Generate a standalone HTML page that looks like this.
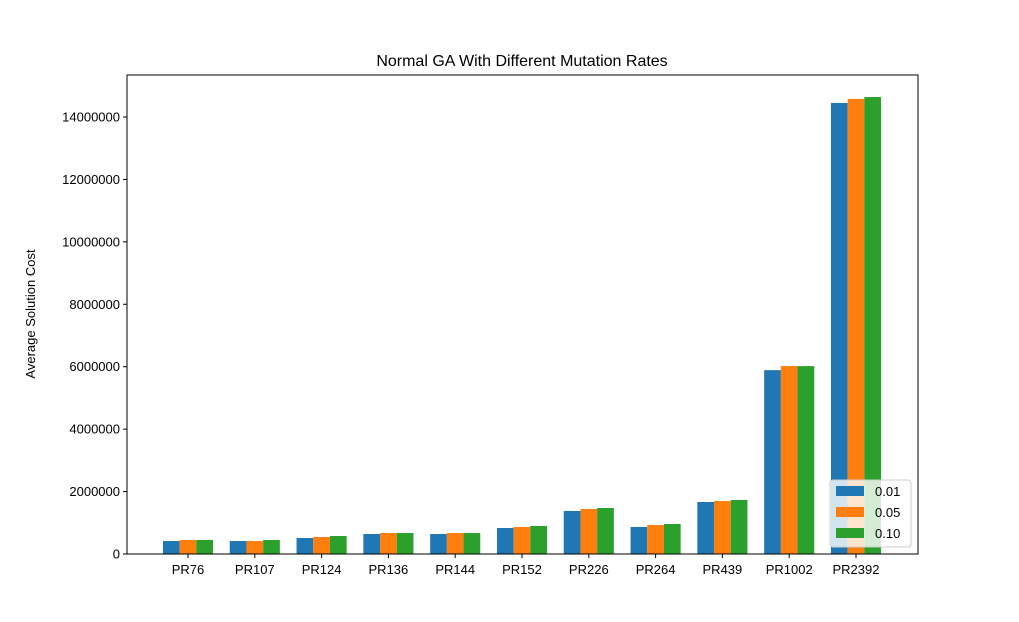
<!DOCTYPE html>
<html><head><meta charset="utf-8"><style>
body{margin:0;background:#fff;}
svg{display:block;font-family:"Liberation Sans","DejaVu Sans",sans-serif;}
</style></head><body>
<svg id="chart" width="1019" height="622">
<text x="522" y="66" text-anchor="middle" font-size="16">Normal GA With Different Mutation Rates</text>
<text transform="translate(35,314) rotate(-90)" text-anchor="middle" font-size="13">Average Solution Cost</text>
<g id="bars"></g><g id="axes"></g>
</svg>
<script>
const categories=["PR76","PR107","PR124","PR136","PR144","PR152","PR226","PR264","PR439","PR1002","PR2392"];
const seriesNames=["0.01","0.05","0.10"];
const rate001=[416000,416000,513000,641000,641000,833000,1378000,865000,1666000,5890000,14450000];
const rate005=[449000,416000,545000,673000,673000,865000,1442000,929000,1698000,6020000,14580000];
const rate010=[449000,449000,577000,673000,673000,897000,1474000,961000,1730000,6020000,14640000];
const yTicks=[0,2000000,4000000,6000000,8000000,10000000,12000000,14000000];
const colors=["#1f77b4","#ff7f0e","#2ca02c"];
const ns="http://www.w3.org/2000/svg";
const L=127,R=918,T=75,B=554;
const y=v=>B-v*(B-117)/14000000;
const step=66.8,x0=188;
const x=i=>x0+i*step;
const bw=step*0.25;
function mk(t,a,p){const e=document.createElementNS(ns,t);for(const k in a)e.setAttribute(k,a[k]);p.appendChild(e);return e;}
const bars=document.getElementById('bars'),axes=document.getElementById('axes');
[rate001,rate005,rate010].forEach((s,si)=>{
 s.forEach((v,i)=>{
  const r=mk('rect',{x:x(i)+(si-1.5)*bw,y:y(v),width:bw,height:B-y(v),fill:colors[si]},bars);
  
  
 });
});
const fr=mk('rect',{x:L,y:T,width:R-L,height:B-T,fill:'none',stroke:'#000','stroke-width':1},axes);


yTicks.forEach(v=>{
 mk('line',{x1:L-4,x2:L,y1:y(v),y2:y(v),stroke:'#000'},axes);
 const t=mk('text',{x:L-7,y:y(v)+4.5,'text-anchor':'end','font-size':13},axes);
 t.textContent=String(v);
 
 
});
categories.forEach((c,i)=>{
 mk('line',{x1:x(i),x2:x(i),y1:B,y2:B+4,stroke:'#000'},axes);
 const t=mk('text',{x:x(i),y:B+20,'text-anchor':'middle','font-size':13},axes);
 t.textContent=c;
 
 
});
const lg=mk('g',{},axes);


mk('rect',{x:830,y:480,width:81,height:67,rx:3,fill:'#fff','fill-opacity':0.8,stroke:'#ccc'},lg);
seriesNames.forEach((n,i)=>{
 const yy=491+i*21;
 mk('rect',{x:836,y:yy-5,width:28,height:10,fill:colors[i]},lg);
 const t=mk('text',{x:875,y:yy+5,'font-size':13},lg);
 t.textContent=n;
 
 
});
</script>
</body></html>
